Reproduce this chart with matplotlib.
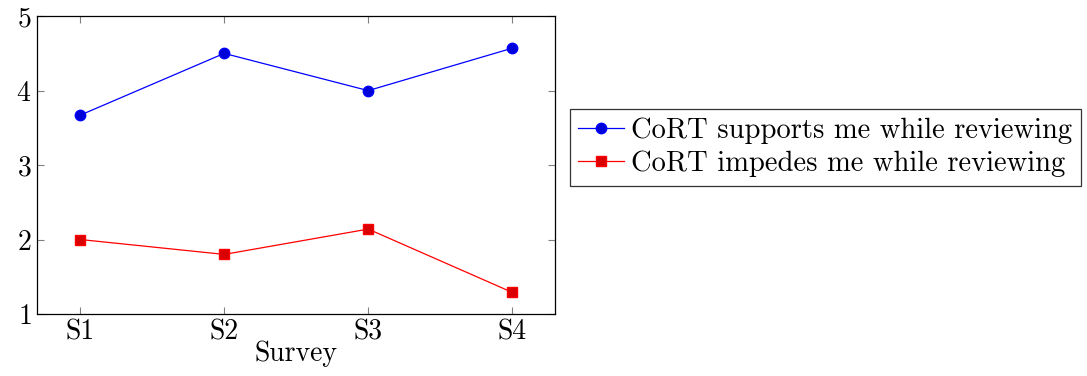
import matplotlib.pyplot as plt

surveys = ['S1', 'S2', 'S3', 'S4']
supports = [3.67, 4.5, 4.0, 4.57]
impedes = [2.0, 1.8, 2.14, 1.29]

plt.rcParams['font.family'] = ['cmr10', 'DejaVu Serif']
plt.rcParams['axes.formatter.use_mathtext'] = True
plt.rcParams['font.size'] = 20

fig = plt.figure(figsize=(10.87, 3.76), dpi=100)
ax = fig.add_axes([0.034, 0.165, 0.477, 0.792])

x = list(range(1, len(surveys) + 1))
ax.plot(x, supports, '-o', color='blue', lw=0.9, ms=7.5,
        mfc=(0, 0, 0.85), mec='blue', label='CoRT supports me while reviewing')
ax.plot(x, impedes, '-s', color='red', lw=0.9, ms=6.5,
        mfc=(0.85, 0, 0), mec='red', label='CoRT impedes me while reviewing')

ax.set_xlim(0.7, 4.3)
ax.set_ylim(1, 5)
ax.set_xticks(x)
ax.set_xticklabels(surveys)
ax.set_yticks([1, 2, 3, 4, 5])
ax.tick_params(direction='in', length=5, color='gray', top=True, right=True,
               labelsize=20, pad=4)
ax.set_xlabel('Survey', fontsize=20, labelpad=-4)
for s in ax.spines.values():
    s.set_linewidth(0.9)

leg = fig.legend(loc='upper left', bbox_to_anchor=(0.524, 0.71),
                 borderaxespad=0, frameon=True, fancybox=False,
                 edgecolor='black', handlelength=1.6, handletextpad=0.25,
                 borderpad=0.3, labelspacing=0.22, fontsize=20.6)
leg.get_frame().set_linewidth(0.9)

fig.savefig('out.png', dpi=100)
